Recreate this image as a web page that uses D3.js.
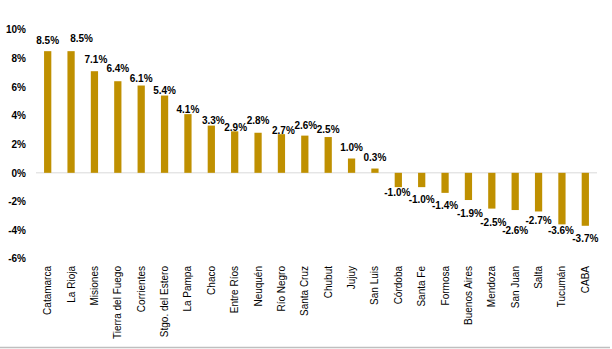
<!DOCTYPE html>
<html><head><meta charset="utf-8">
<script src="https://cdn.jsdelivr.net/npm/d3@7"></script>
<style>html,body{margin:0;padding:0;background:#fff;}svg{display:block;}</style>
</head><body>
<svg id="c" width="612" height="349"></svg>
<script>
const categories = ["Catamarca","La Rioja","Misiones","Tierra del Fuego","Corrientes","Stgo. del Estero","La Pampa","Chaco","Entre Ríos","Neuquén","Río Negro","Santa Cruz","Chubut","Jujuy","San Luis","Córdoba","Santa Fe","Formosa","Buenos Aires","Mendoza","San Juan","Salta","Tucumán","CABA"];
const values = [8.5,8.5,7.1,6.4,6.1,5.4,4.1,3.3,2.9,2.8,2.7,2.6,2.5,1.0,0.3,-1.0,-1.0,-1.4,-1.9,-2.5,-2.6,-2.7,-3.6,-3.7];
const yTicks = [10,8,6,4,2,0,-2,-4,-6];
// label nudges (px) relative to default placement
const labelDx = [0,10.5,1.5,0,0,0,0,2,1,0,2,1,0,0,0,-1,0,0,1.5,1.5,0,0,-1,0];
const labelDy = [-11,-13,-12,-12.5,-7,-5,-4.5,-5,-3.5,-12.5,-3.5,-10,-8,-11.5,-11.5,5,12.5,12.7,13,13.5,20.5,9,6,12.3];

const svg = d3.select("#c");
const x = d3.scaleBand().domain(categories).range([36,597]).paddingInner(0.69).paddingOuter(0.345);
const y = d3.scaleLinear().domain([-6,10]).range([258.7,29.7]);
const font = "'Liberation Sans', Arial, sans-serif";

// zero line
svg.append("line").attr("x1",36).attr("x2",597).attr("y1",y(0)).attr("y2",y(0))
  .attr("stroke","#d9d9d9").attr("stroke-width",1);

// y axis labels
const yAxis = d3.axisLeft(y).tickValues(yTicks).tickSize(0).tickPadding(0).tickFormat(d=>d+"%");
const ga = svg.append("g").attr("transform","translate(26,0)").call(yAxis);
ga.select(".domain").remove();
ga.selectAll("text").attr("font-family",font).attr("font-size",10).attr("font-weight","bold").attr("fill","#000");

// bars
svg.append("g").selectAll("rect").data(values).join("rect")
  .attr("x",(d,i)=>x(categories[i]))
  .attr("width",x.bandwidth())
  .attr("y",d=>y(Math.max(0,d)))
  .attr("height",d=>Math.abs(y(d)-y(0)))
  .attr("fill","#BF9000");

// value labels
svg.append("g").selectAll("text").data(values).join("text")
  .attr("x",(d,i)=>x(categories[i])+x.bandwidth()/2+labelDx[i])
  .attr("y",(d,i)=>y(d)+labelDy[i])
  .attr("dy","0.35em")
  .attr("text-anchor","middle")
  .attr("font-family",font).attr("font-size",10).attr("font-weight","bold").attr("fill","#000")
  .text(d=>d.toFixed(1)+"%");

// x axis category labels
const xAxis = d3.axisBottom(x).tickSize(0).tickPadding(0);
const gx = svg.append("g").attr("transform","translate(0,266)").call(xAxis);
gx.select(".domain").remove();
gx.selectAll("text")
  .attr("font-family",font).attr("font-size",10).attr("fill","#000")
  .attr("transform","rotate(-90)")
  .attr("text-anchor","end")
  .attr("x",0).attr("y",0).attr("dx",0).attr("dy","0.35em");

// bottom border
svg.append("line").attr("x1",0).attr("x2",610).attr("y1",347.5).attr("y2",347.5)
  .attr("stroke","#bfbfbf").attr("stroke-width",1.5);
</script>
</body></html>
